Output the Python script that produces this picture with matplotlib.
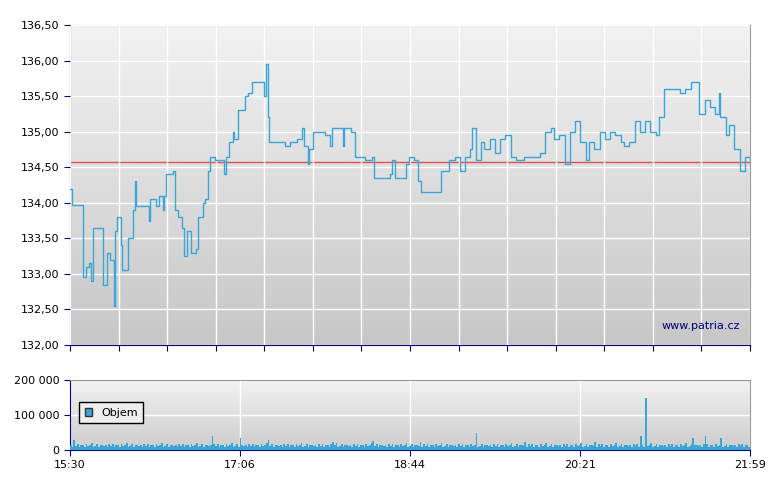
import matplotlib
matplotlib.use("Agg")
import matplotlib.pyplot as plt
import numpy as np
from matplotlib.ticker import FuncFormatter

minutes = [0,1,7,7.4,9,11,12,13,18,19,21,23,25,26,27,29,30,31,33,36,37,38,43,45,46,49,51,53,54,55,59,60,62,64,65,67,69,72,73,76,77,79,80,83,86,88,89,91,93,94,96,97,100,102,104,109,111,112,113,114,118,123,126,130,133,134,136,137,139,143,146,149,150,154,156,157,161,163,169,173,174,180,183,184,186,190,192,194,197,199,201,210,212,214,217,220,223,226,229,230,232,235,237,240,243,246,249,252,255,260,269,272,275,277,280,283,286,289,292,295,297,300,303,306,309,312,315,317,320,323,326,329,332,335,337,340,346,349,352,355,357,360,363,366,369,371,372,375,377,380,383,386,389]
prices = [134.2,133.97,133.97,132.95,133.1,133.15,132.9,133.65,133.65,132.85,133.3,133.2,132.55,133.6,133.8,133.4,133.05,133.05,133.5,133.9,134.3,133.95,133.95,133.75,134.05,133.95,134.1,133.9,134.1,134.4,134.45,133.9,133.8,133.65,133.25,133.6,133.3,133.35,133.8,134.0,134.05,134.45,134.65,134.6,134.6,134.4,134.65,134.85,135.0,134.9,135.3,135.3,135.5,135.55,135.7,135.7,135.5,135.95,135.2,134.85,134.85,134.8,134.85,134.9,135.05,134.8,134.55,134.75,135.0,135.0,134.95,134.8,135.05,135.05,134.8,135.05,135.0,134.65,134.6,134.65,134.35,134.35,134.4,134.6,134.35,134.35,134.55,134.65,134.6,134.3,134.15,134.15,134.45,134.45,134.6,134.65,134.45,134.65,134.75,135.05,134.6,134.85,134.75,134.9,134.7,134.9,134.95,134.65,134.6,134.65,134.7,135.0,135.05,134.9,134.95,134.55,135.0,135.15,134.85,134.6,134.85,134.75,135.0,134.9,135.0,134.95,134.85,134.8,134.85,135.15,135.0,135.15,135.0,134.95,135.2,135.6,135.6,135.55,135.6,135.7,135.7,135.25,135.45,135.35,135.25,135.55,135.2,134.95,135.1,134.75,134.45,134.65,134.5]
ref_price = 134.57

vol_pattern = [14000,9000,16000,12000,18000,10000,13000,15000,8000,17000,11000,14000,19000,9000,12000,16000,10000,13000,15000,11000]
spike_min = [2,81,97,113,173,232,326,329,356,363,372,150,200,260,300]
spike_vol = [30000,40000,35000,30000,25000,50000,40000,150000,35000,40000,35000,22000,24000,22000,23000]

xticklabels = ["15:30","17:06","18:44","20:21","21:59"]
T = 389

fig = plt.figure(figsize=(7.8,4.9), dpi=100)
ax = fig.add_axes([70/780, 145/490, 680/780, 320/490])
axv = fig.add_axes([70/780, 40/490, 680/780, 70/490])

def grad(a, top, bot):
    g = np.linspace(0,1,256).reshape(-1,1)
    c1 = np.array(top); c2 = np.array(bot)
    img = c1 + (c2-c1)*g
    a.imshow(img.reshape(256,1,3), aspect='auto', extent=[0,1,0,1], transform=a.transAxes, zorder=0)

grad(ax, [0.95,0.95,0.95], [0.78,0.78,0.78])
grad(axv, [0.95,0.95,0.95], [0.80,0.80,0.80])

ax.step(minutes, prices, where='post', color='#3aa6d8', lw=1, zorder=3)
ax.axhline(ref_price, color='#e05050', lw=1, zorder=2)
ax.set_xlim(0, T); ax.set_ylim(132, 136.5)
ax.set_yticks(np.arange(132, 136.51, 0.5))
ax.yaxis.set_major_formatter(FuncFormatter(lambda v,p: f"{v:.2f}".replace(".",",")))
ax.set_xticks(np.linspace(0, T, 15))
ax.set_xticklabels([])
ax.grid(True, color='white', lw=1, zorder=1)
ax.set_axisbelow(False)
ax.text(0.985, 0.05, "www.patria.cz", transform=ax.transAxes, ha='right', fontsize=8, color='#000080', zorder=4)

vols = [vol_pattern[i % len(vol_pattern)] for i in range(T+1)]
for m, v in zip(spike_min, spike_vol):
    vols[m] = v
axv.bar(range(T+1), vols, width=1.0, color='#3aa6d8', align='edge', zorder=3)
axv.set_xlim(0, T); axv.set_ylim(0, 200000)
axv.set_yticks([0,100000,200000])
axv.set_yticklabels(["0","100 000","200 000"])
axv.set_xticks(np.linspace(0, T, 5))
axv.set_xticklabels(xticklabels)
axv.grid(True, color='white', lw=1, zorder=1)
from matplotlib.patches import Patch
leg = axv.legend([Patch(facecolor='#3aa6d8', edgecolor='#333')], ["Objem"], loc='lower left',
                 bbox_to_anchor=(0.005, 0.3), fontsize=8, handlelength=0.7, handleheight=0.7,
                 fancybox=False, edgecolor='black', framealpha=1, borderpad=0.5)
leg.get_frame().set_facecolor('#eeeeee')

for a in (ax, axv):
    for s in a.spines.values():
        s.set_color('#999999')
    a.spines['left'].set_color('#000080')
    a.spines['bottom'].set_color('#000080')
    a.tick_params(colors='black', labelsize=8, length=4)
    a.tick_params(axis='both', color='#000080')

fig.savefig("out.png", dpi=100)
